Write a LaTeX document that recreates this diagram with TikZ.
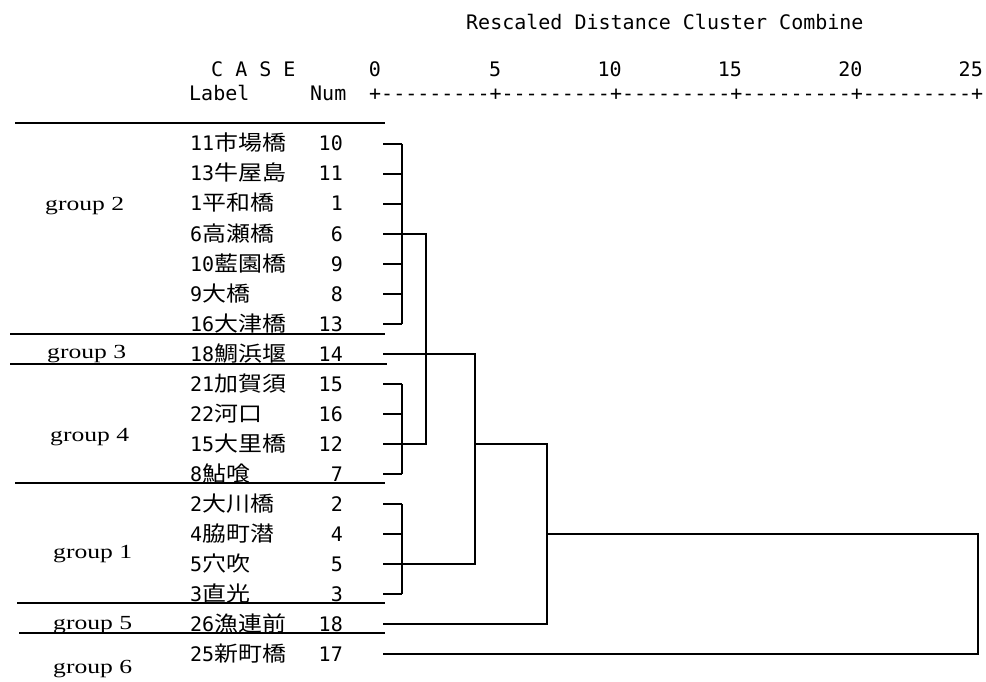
\documentclass[tikz,border=0pt]{standalone}
\usepackage{fontspec}
\setmainfont{Liberation Serif}
\setmonofont{DejaVu Sans Mono}
\newfontfamily\cjkfont[FakeStretch=1.14]{Noto Sans CJK JP}
\newfontfamily\grpfont[FakeStretch=1.28]{Liberation Serif}
\tikzset{
  hdrtxt/.style={inner sep=0pt, font=\ttfamily\fontsize{20}{24}\selectfont},
  grptxt/.style={inner sep=0pt, anchor=base west, font=\grpfont\fontsize{20}{24}\selectfont},
  sepline/.style={line width=1.5pt},
  dline/.style={line width=1.3pt}
}
\begin{document}
\begin{tikzpicture}[x=1pt,y=-1pt]
\path[use as bounding box, fill=white] (0,0) rectangle (986,682);

% header
\node[hdrtxt, anchor=base west] (title) at (466,30) {Rescaled Distance Cluster Combine};
\node[hdrtxt, anchor=base west] (case) at (211,77) {C A S E};
\node[hdrtxt, anchor=base west] (labhdr) at (189,101) {Label};
\node[hdrtxt, anchor=base west] (numhdr) at (310,101) {Num};
\node[hdrtxt, anchor=base west] (axis) at (369,101) {+---------+---------+---------+---------+---------+};
\foreach \k/\v in {0/0,1/5,2/10,3/15,4/20,5/25}
  \node[hdrtxt, anchor=base east] (sc\k) at ({381+120.4*\k},77) {\v};

% rows
\foreach \i/\rl/\rk/\rn in {1/11/市場橋/10, 2/13/牛屋島/11, 3/1/平和橋/1, 4/6/高瀬橋/6,
   5/10/藍園橋/9, 6/9/大橋/8, 7/16/大津橋/13, 8/18/鯛浜堰/14, 9/21/加賀須/15,
   10/22/河口/16, 11/15/大里橋/12, 12/8/鮎喰/7, 13/2/大川橋/2, 14/4/脇町潜/4,
   15/5/穴吹/5, 16/3/直光/3, 17/26/漁連前/18, 18/25/新町橋/17}{
  \node[hdrtxt, anchor=base west] (lab\i) at (190,{151+30*(\i-1)}) {\rl{\fontsize{21}{24}\cjkfont\rk}};
  \node[hdrtxt, anchor=base east] (num\i) at (343,{151+30*(\i-1)}) {\rn};
  \coordinate (t\i) at (383,{144+30*(\i-1)});
}

% join x positions
\coordinate (xa) at (402,0);
\coordinate (xb) at (426,0);
\coordinate (xc) at (475,0);
\coordinate (xd) at (547,0);
\coordinate (xe) at (978,0);

% dendrogram
\foreach \i in {1,2,3,4,5,6,7,9,10,11,12,13,14,15,16}
  \draw[dline] (t\i) -- (t\i -| xa);
\draw[dline] (t1 -| xa) -- (t7 -| xa);
\draw[dline] (t9 -| xa) -- (t12 -| xa);
\draw[dline] (t13 -| xa) -- (t16 -| xa);
\draw[dline] (t4 -| xa) -- (t4 -| xb) -- (t11 -| xb) -- (t11 -| xa);
\draw[dline] (t8) -- (t8 -| xc) -- (t15 -| xc) -- (t15 -| xa);
\draw[dline] (t11 -| xc) -- (t11 -| xd) -- (t17 -| xd) -- (t17);
\draw[dline] (t14 -| xd) -- (t14 -| xe) -- (t18 -| xe) -- (t18);

% group separators
\draw[sepline] (15,123) -- (385,123);
\draw[sepline] (10,334) -- (385,334);
\draw[sepline] (10,364) -- (387,364);
\draw[sepline] (15,483) -- (385,483);
\draw[sepline] (17,603) -- (385,603);
\draw[sepline] (19,633) -- (385,633);

% group labels
\node[grptxt] (g2) at (45,211) {group 2};
\node[grptxt] (g3) at (47,358) {group 3};
\node[grptxt] (g4) at (50,441) {group 4};
\node[grptxt] (g1) at (53,558) {group 1};
\node[grptxt] (g5) at (53,629) {group 5};
\node[grptxt] (g6) at (53,673) {group 6};
\end{tikzpicture}
\end{document}
